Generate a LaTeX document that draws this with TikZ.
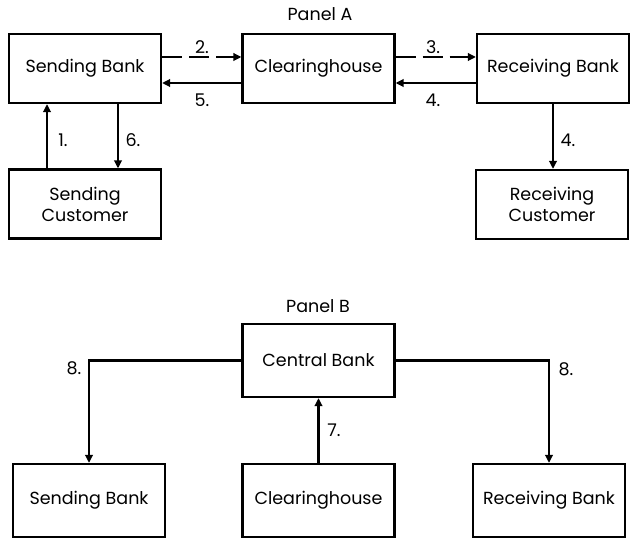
\documentclass[tikz,border=0pt]{standalone}
\usepackage{fontspec}
\setmainfont{Poppins}
\usetikzlibrary{arrows.meta}
\tikzset{
  box/.style={draw, line width=2.2pt, minimum width=152pt, minimum height=69pt, inner sep=0pt, align=center, font=\fontsize{17.5}{21}\selectfont},
  conn/.style={line width=2.2pt, -{Triangle[length=8pt,width=7.5pt]}},
  dconn/.style={conn, dash pattern=on 20pt off 7pt},
  lab/.style={font=\fontsize{17.5}{21}\selectfont, inner sep=0pt},
}
\begin{document}
\begin{tikzpicture}[x=1pt,y=-1pt]
\useasboundingbox (0,0) rectangle (632,540);
% Panel A
\node[lab] (pa) at (320,14) {Panel A};
\node[box] (sb) at (85,68.5) {Sending Bank};
\node[box] (ch) at (318.5,68.5) {Clearinghouse};
\node[box] (rb) at (553,68.5) {Receiving Bank};
\node[box] (sc) at (85,204) {Sending\\Customer};
\node[box] (rc) at (552,204.5) {Receiving\\Customer};
\draw[dconn] ([yshift=11.5pt]sb.east) -- ([yshift=11.5pt]sb.east -| ch.west);
\draw[conn] ([yshift=-14.5pt]ch.west) -- ([yshift=-14.5pt]ch.west -| sb.east);
\draw[dconn] ([yshift=11.5pt]ch.east) -- ([yshift=11.5pt]ch.east -| rb.west);
\draw[conn] ([yshift=-14.5pt]rb.west) -- ([yshift=-14.5pt]rb.west -| ch.east);
\draw[conn] ([xshift=-38pt]sc.north) -- ([xshift=-38pt]sb.south);
\draw[conn] ([xshift=33pt]sb.south) -- ([xshift=33pt]sc.north);
\draw[conn] (rb.south) -- (rb.south |- rc.north);
\node[lab] (l2) at (202,47) {2.};
\node[lab] (l5) at (202,100) {5.};
\node[lab] (l3) at (433,47) {3.};
\node[lab] (l4a) at (433,100) {4.};
\node[lab] (l1) at (63,140) {1.};
\node[lab] (l6) at (133,140) {6.};
\node[lab] (l4b) at (568,140) {4.};
% Panel B
\node[lab] (pb) at (318,306) {Panel B};
\node[box, minimum height=73pt] (cb) at (318.5,360.5) {Central Bank};
\node[box, minimum height=73pt] (sbb) at (89,500.5) {Sending Bank};
\node[box, minimum height=73pt] (chb) at (318.5,500.5) {Clearinghouse};
\node[box, minimum height=73pt] (rbb) at (549,500.5) {Receiving Bank};
\draw[conn] (cb.west) -| (sbb.north);
\draw[conn] (cb.east) -| (rbb.north);
\draw[conn] (chb.north) -- (cb.south);
\node[lab] (l8a) at (74,368) {8.};
\node[lab] (l8b) at (566,369) {8.};
\node[lab] (l7) at (334,430) {7.};
\end{tikzpicture}
\end{document}
